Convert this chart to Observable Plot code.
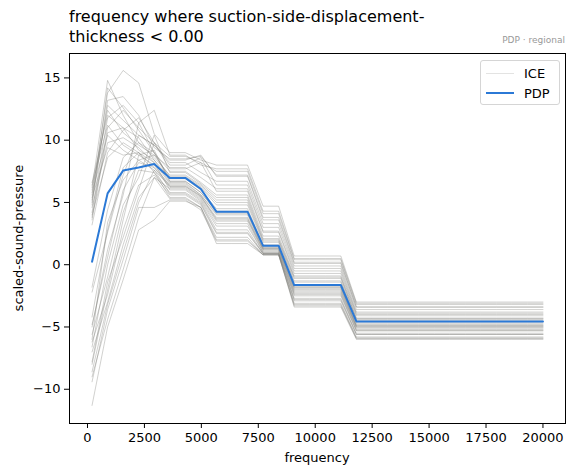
<!DOCTYPE html>
<html>
<head>
<meta charset="utf-8">
<script src="https://cdn.jsdelivr.net/npm/d3@7"></script>
<script src="https://cdn.jsdelivr.net/npm/@observablehq/plot@0.6"></script>
<style>
  body { margin: 0; background: #fff; font-family: "DejaVu Sans", sans-serif; }
  #wrap { position: relative; width: 574px; height: 476px; overflow: hidden; }
  #wrap svg { position: absolute; left: 0; top: 0; }
  .title { position: absolute; left: 69px; top: 7px; font-size: 16px; line-height: 20px; color: #000; white-space: nowrap; }
  .subtitle { position: absolute; right: 9px; top: 35px; font-size: 9px; color: #999; white-space: nowrap; }
  .xlabel { position: absolute; left: 69px; width: 496px; top: 450px; text-align: center; font-size: 13px; color: #000; }
  .ylabel { position: absolute; left: 18px; top: 238px; font-size: 13px; color: #000; white-space: nowrap;
            transform: translate(-50%, -50%) rotate(-90deg); }
  .legend { position: absolute; left: 480px; top: 60px; width: 80px; height: 45px; box-sizing: border-box;
            border: 1px solid #d5d5d5; border-radius: 3px; background: rgba(255,255,255,0.8); font-size: 13px; }
  .legend .row { position: absolute; left: 5px; height: 16px; display: flex; align-items: center; }
  .legend .sw { width: 28px; margin-right: 10px; }
</style>
</head>
<body>
<div id="wrap">
  <div class="title">frequency where suction-side-displacement-<br>thickness &lt; 0.00</div>
  <div class="subtitle">PDP · regional</div>
  <div class="xlabel">frequency</div>
  <div class="ylabel">scaled-sound-pressure</div>
  <div class="legend">
    <div class="row" style="top:4px"><div class="sw" id="swIce"></div><span>ICE</span></div>
    <div class="row" style="top:24px"><div class="sw" id="swPdp"></div><span>PDP</span></div>
  </div>
</div>
<script>
// Frequency grid (Hz) on which the partial dependence was evaluated
const frequencyGrid = [200, 883, 1566, 2248, 2931, 3614, 4297, 4979, 5662, 6345, 7028, 7710, 8393, 9076, 9759,
  10441, 11124, 11807, 12490, 13172, 13855, 14538, 15221, 15903, 16586, 17269, 17952, 18634, 19317, 20000];

// Partial dependence (average effect) of frequency on scaled sound pressure
const pdpValues = [0.24, 5.73, 7.56, 7.8, 8.09, 6.97, 6.97, 6.08, 4.26, 4.26, 4.26, 1.53, 1.53, -1.63, -1.63, -1.63, -1.63,
  -4.55, -4.55, -4.55, -4.55, -4.55, -4.55, -4.55, -4.55, -4.55, -4.55, -4.55, -4.55, -4.55];

// Individual conditional expectation curves, one per sampled observation
const iceCurves = [
  [6.2,14.8,12.0,9.8,8.6,7.2,7.2,6.4,5.2,5.2,5.2,2.0,2.0,-1.1,-1.1,-1.1,-1.1,-4.3,-4.3,-4.3,-4.3,-4.3,-4.3,-4.3,-4.3,-4.3,-4.3,-4.3,-4.3,-4.3],
  [5.6,13.8,15.6,14.6,10.5,9.0,9.0,8.4,8.0,8.0,8.0,4.7,4.7,0.7,0.7,0.7,0.7,-3.0,-3.0,-3.0,-3.0,-3.0,-3.0,-3.0,-3.0,-3.0,-3.0,-3.0,-3.0,-3.0],
  [4.8,13.2,13.5,12.0,9.4,8.5,8.5,8.7,7.2,7.2,7.2,3.8,3.8,0.2,0.2,0.2,0.2,-3.4,-3.4,-3.4,-3.4,-3.4,-3.4,-3.4,-3.4,-3.4,-3.4,-3.4,-3.4,-3.4],
  [6.0,12.4,10.6,9.6,8.8,7.8,7.8,7.0,6.1,6.1,6.1,2.7,2.7,-0.5,-0.5,-0.5,-0.5,-3.9,-3.9,-3.9,-3.9,-3.9,-3.9,-3.9,-3.9,-3.9,-3.9,-3.9,-3.9,-3.9],
  [4.2,11.8,12.8,11.4,9.0,6.7,6.7,5.8,4.3,4.3,4.3,1.5,1.5,-1.7,-1.7,-1.7,-1.7,-4.7,-4.7,-4.7,-4.7,-4.7,-4.7,-4.7,-4.7,-4.7,-4.7,-4.7,-4.7,-4.7],
  [5.2,12.8,11.6,10.4,9.6,8.2,8.2,7.4,6.7,6.7,6.7,3.3,3.3,-0.1,-0.1,-0.1,-0.1,-3.6,-3.6,-3.6,-3.6,-3.6,-3.6,-3.6,-3.6,-3.6,-3.6,-3.6,-3.6,-3.6],
  [3.6,10.6,11.0,10.2,8.4,6.6,6.6,5.6,4.1,4.1,4.1,1.4,1.4,-1.8,-1.8,-1.8,-1.8,-4.9,-4.9,-4.9,-4.9,-4.9,-4.9,-4.9,-4.9,-4.9,-4.9,-4.9,-4.9,-4.9],
  [6.4,11.2,9.6,8.8,8.0,6.3,6.3,5.5,3.6,3.6,3.6,1.2,1.2,-2.2,-2.2,-2.2,-2.2,-5.1,-5.1,-5.1,-5.1,-5.1,-5.1,-5.1,-5.1,-5.1,-5.1,-5.1,-5.1,-5.1],
  [4.6,9.8,10.2,9.4,8.2,6.0,6.0,5.1,3.1,3.1,3.1,1.0,1.0,-2.5,-2.5,-2.5,-2.5,-5.3,-5.3,-5.3,-5.3,-5.3,-5.3,-5.3,-5.3,-5.3,-5.3,-5.3,-5.3,-5.3],
  [5.0,14.2,12.6,10.8,9.0,7.5,7.5,6.6,5.6,5.6,5.6,2.3,2.3,-0.9,-0.9,-0.9,-0.9,-4.1,-4.1,-4.1,-4.1,-4.1,-4.1,-4.1,-4.1,-4.1,-4.1,-4.1,-4.1,-4.1],
  [3.2,9.0,10.8,11.8,9.8,8.0,8.0,8.6,6.4,6.4,6.4,3.0,3.0,-0.3,-0.3,-0.3,-0.3,-3.8,-3.8,-3.8,-3.8,-3.8,-3.8,-3.8,-3.8,-3.8,-3.8,-3.8,-3.8,-3.8],
  [5.8,10.4,9.2,8.4,7.6,5.7,5.7,4.9,2.6,2.6,2.6,0.9,0.9,-2.8,-2.8,-2.8,-2.8,-5.6,-5.6,-5.6,-5.6,-5.6,-5.6,-5.6,-5.6,-5.6,-5.6,-5.6,-5.6,-5.6],
  [4.0,8.6,9.8,9.0,7.4,5.4,5.4,4.6,2.2,2.2,2.2,0.8,0.8,-3.1,-3.1,-3.1,-3.1,-5.8,-5.8,-5.8,-5.8,-5.8,-5.8,-5.8,-5.8,-5.8,-5.8,-5.8,-5.8,-5.8],
  [6.6,12.0,11.0,9.2,8.4,7.0,7.0,6.2,4.8,4.8,4.8,1.8,1.8,-1.4,-1.4,-1.4,-1.4,-4.5,-4.5,-4.5,-4.5,-4.5,-4.5,-4.5,-4.5,-4.5,-4.5,-4.5,-4.5,-4.5],
  [3.8,11.0,12.4,11.0,9.8,8.7,8.7,8.2,7.5,7.5,7.5,4.1,4.1,0.4,0.4,0.4,0.4,-3.2,-3.2,-3.2,-3.2,-3.2,-3.2,-3.2,-3.2,-3.2,-3.2,-3.2,-3.2,-3.2],
  [5.4,9.4,8.8,9.0,7.8,6.4,6.4,5.5,3.8,3.8,3.8,1.3,1.3,-2.0,-2.0,-2.0,-2.0,-5.0,-5.0,-5.0,-5.0,-5.0,-5.0,-5.0,-5.0,-5.0,-5.0,-5.0,-5.0,-5.0],
  [-1.8,4.4,8.6,9.8,9.0,6.9,6.9,6.0,4.5,4.5,4.5,1.6,1.6,-1.6,-1.6,-1.6,-1.6,-4.6,-4.6,-4.6,-4.6,-4.6,-4.6,-4.6,-4.6,-4.6,-4.6,-4.6,-4.6,-4.6],
  [-2.2,2.6,7.2,10.4,9.6,8.4,8.4,8.8,7.1,7.1,7.1,3.6,3.6,0.1,0.1,0.1,0.1,-3.4,-3.4,-3.4,-3.4,-3.4,-3.4,-3.4,-3.4,-3.4,-3.4,-3.4,-3.4,-3.4],
  [-4.8,0.6,6.0,8.2,7.8,6.2,6.2,5.3,3.5,3.5,3.5,1.1,1.1,-2.3,-2.3,-2.3,-2.3,-5.2,-5.2,-5.2,-5.2,-5.2,-5.2,-5.2,-5.2,-5.2,-5.2,-5.2,-5.2,-5.2],
  [-5.6,-1.0,4.2,7.6,7.4,5.8,5.8,5.0,2.8,2.8,2.8,0.9,0.9,-2.7,-2.7,-2.7,-2.7,-5.5,-5.5,-5.5,-5.5,-5.5,-5.5,-5.5,-5.5,-5.5,-5.5,-5.5,-5.5,-5.5],
  [-6.2,-2.4,2.8,6.4,7.2,5.6,5.6,4.8,2.5,2.5,2.5,0.9,0.9,-2.9,-2.9,-2.9,-2.9,-5.6,-5.6,-5.6,-5.6,-5.6,-5.6,-5.6,-5.6,-5.6,-5.6,-5.6,-5.6,-5.6],
  [-7.0,-3.0,1.6,5.4,7.0,5.3,5.3,4.6,2.0,2.0,2.0,0.8,0.8,-3.2,-3.2,-3.2,-3.2,-5.9,-5.9,-5.9,-5.9,-5.9,-5.9,-5.9,-5.9,-5.9,-5.9,-5.9,-5.9,-5.9],
  [-8.0,-2.0,3.6,8.8,9.2,6.7,6.7,5.8,4.2,4.2,4.2,1.4,1.4,-1.8,-1.8,-1.8,-1.8,-4.8,-4.8,-4.8,-4.8,-4.8,-4.8,-4.8,-4.8,-4.8,-4.8,-4.8,-4.8,-4.8],
  [-9.4,-3.6,0.4,4.6,4.6,5.2,5.2,4.4,1.9,1.9,1.9,0.8,0.8,-3.3,-3.3,-3.3,-3.3,-5.9,-5.9,-5.9,-5.9,-5.9,-5.9,-5.9,-5.9,-5.9,-5.9,-5.9,-5.9,-5.9],
  [-11.3,-5.0,-1.2,2.8,3.6,5.1,5.1,4.6,1.7,1.7,1.7,0.8,0.8,-3.4,-3.4,-3.4,-3.4,-6.0,-6.0,-6.0,-6.0,-6.0,-6.0,-6.0,-6.0,-6.0,-6.0,-6.0,-6.0,-6.0],
  [-5.0,1.2,5.6,11.4,12.4,8.8,8.8,8.0,7.7,7.7,7.7,4.3,4.3,0.5,0.5,0.5,0.5,-3.1,-3.1,-3.1,-3.1,-3.1,-3.1,-3.1,-3.1,-3.1,-3.1,-3.1,-3.1,-3.1],
  [-6.6,0.0,4.8,7.0,10.4,7.4,7.4,6.5,5.4,5.4,5.4,2.1,2.1,-1.0,-1.0,-1.0,-1.0,-4.3,-4.3,-4.3,-4.3,-4.3,-4.3,-4.3,-4.3,-4.3,-4.3,-4.3,-4.3,-4.3],
  [-7.8,-1.4,2.2,6.0,9.8,7.7,7.7,8.2,5.9,5.9,5.9,2.6,2.6,-0.7,-0.7,-0.7,-0.7,-4.0,-4.0,-4.0,-4.0,-4.0,-4.0,-4.0,-4.0,-4.0,-4.0,-4.0,-4.0,-4.0],
  [-4.2,2.8,7.8,9.0,8.2,6.5,6.5,5.6,4.0,4.0,4.0,1.3,1.3,-1.9,-1.9,-1.9,-1.9,-4.9,-4.9,-4.9,-4.9,-4.9,-4.9,-4.9,-4.9,-4.9,-4.9,-4.9,-4.9,-4.9],
  [-9.0,-4.4,-0.4,3.8,7.0,6.1,6.1,5.2,3.3,3.3,3.3,1.0,1.0,-2.4,-2.4,-2.4,-2.4,-5.3,-5.3,-5.3,-5.3,-5.3,-5.3,-5.3,-5.3,-5.3,-5.3,-5.3,-5.3,-5.3],
  [-6.0,3.4,6.8,8.4,8.8,7.1,7.1,6.3,5.0,5.0,5.0,1.9,1.9,-1.3,-1.3,-1.3,-1.3,-4.4,-4.4,-4.4,-4.4,-4.4,-4.4,-4.4,-4.4,-4.4,-4.4,-4.4,-4.4,-4.4],
  [-8.6,-3.2,1.0,5.0,7.6,6.3,6.3,5.4,3.7,3.7,3.7,1.2,1.2,-2.1,-2.1,-2.1,-2.1,-5.0,-5.0,-5.0,-5.0,-5.0,-5.0,-5.0,-5.0,-5.0,-5.0,-5.0,-5.0,-5.0]
];

const xTicks = [0, 2500, 5000, 7500, 10000, 12500, 15000, 17500, 20000];
const yTicks = [-10, -5, 0, 5, 10, 15];

const ICE_COLOR = "#787872";
const ICE_OPACITY = 0.34;
const PDP_COLOR = "#2b79d6";

// Long-format rows for the line marks
const iceRows = iceCurves.flatMap((curve, c) =>
  curve.map((value, i) => ({curve: c, frequency: frequencyGrid[i], value})));
const pdpRows = pdpValues.map((value, i) => ({frequency: frequencyGrid[i], value}));

const minus = d => (d < 0 ? "\u2212" + Math.abs(d) : String(d));

const chart = Plot.plot({
  width: 574,
  height: 476,
  marginTop: 53,
  marginLeft: 69,
  marginRight: 9,
  marginBottom: 53,
  style: {fontFamily: '"DejaVu Sans", sans-serif', fontSize: "13px", color: "#000", background: "transparent"},
  x: {domain: [-790, 20990]},
  y: {domain: [-12.75, 16.96]},
  marks: [
    Plot.line(iceRows, {x: "frequency", y: "value", z: "curve", stroke: ICE_COLOR, strokeOpacity: ICE_OPACITY, strokeWidth: 1}),
    Plot.line(pdpRows, {x: "frequency", y: "value", stroke: PDP_COLOR, strokeWidth: 2}),
    Plot.frame({stroke: "#000", strokeWidth: 1}),
    Plot.axisX({ticks: xTicks, tickSize: 5, tickPadding: 4, label: null, tickFormat: d => String(d)}),
    Plot.axisY({ticks: yTicks, tickSize: 5, tickPadding: 4, label: null, tickFormat: minus})
  ]
});
document.getElementById("wrap").prepend(chart);

// Legend swatches use the same stroke styles as the marks
document.getElementById("swIce").style.cssText =
  `width:28px;margin-right:10px;border-top:1px solid ${ICE_COLOR};opacity:${ICE_OPACITY * 0.6}`;
document.getElementById("swPdp").style.cssText =
  `width:28px;margin-right:10px;border-top:2px solid ${PDP_COLOR}`;
</script>
</body>
</html>
